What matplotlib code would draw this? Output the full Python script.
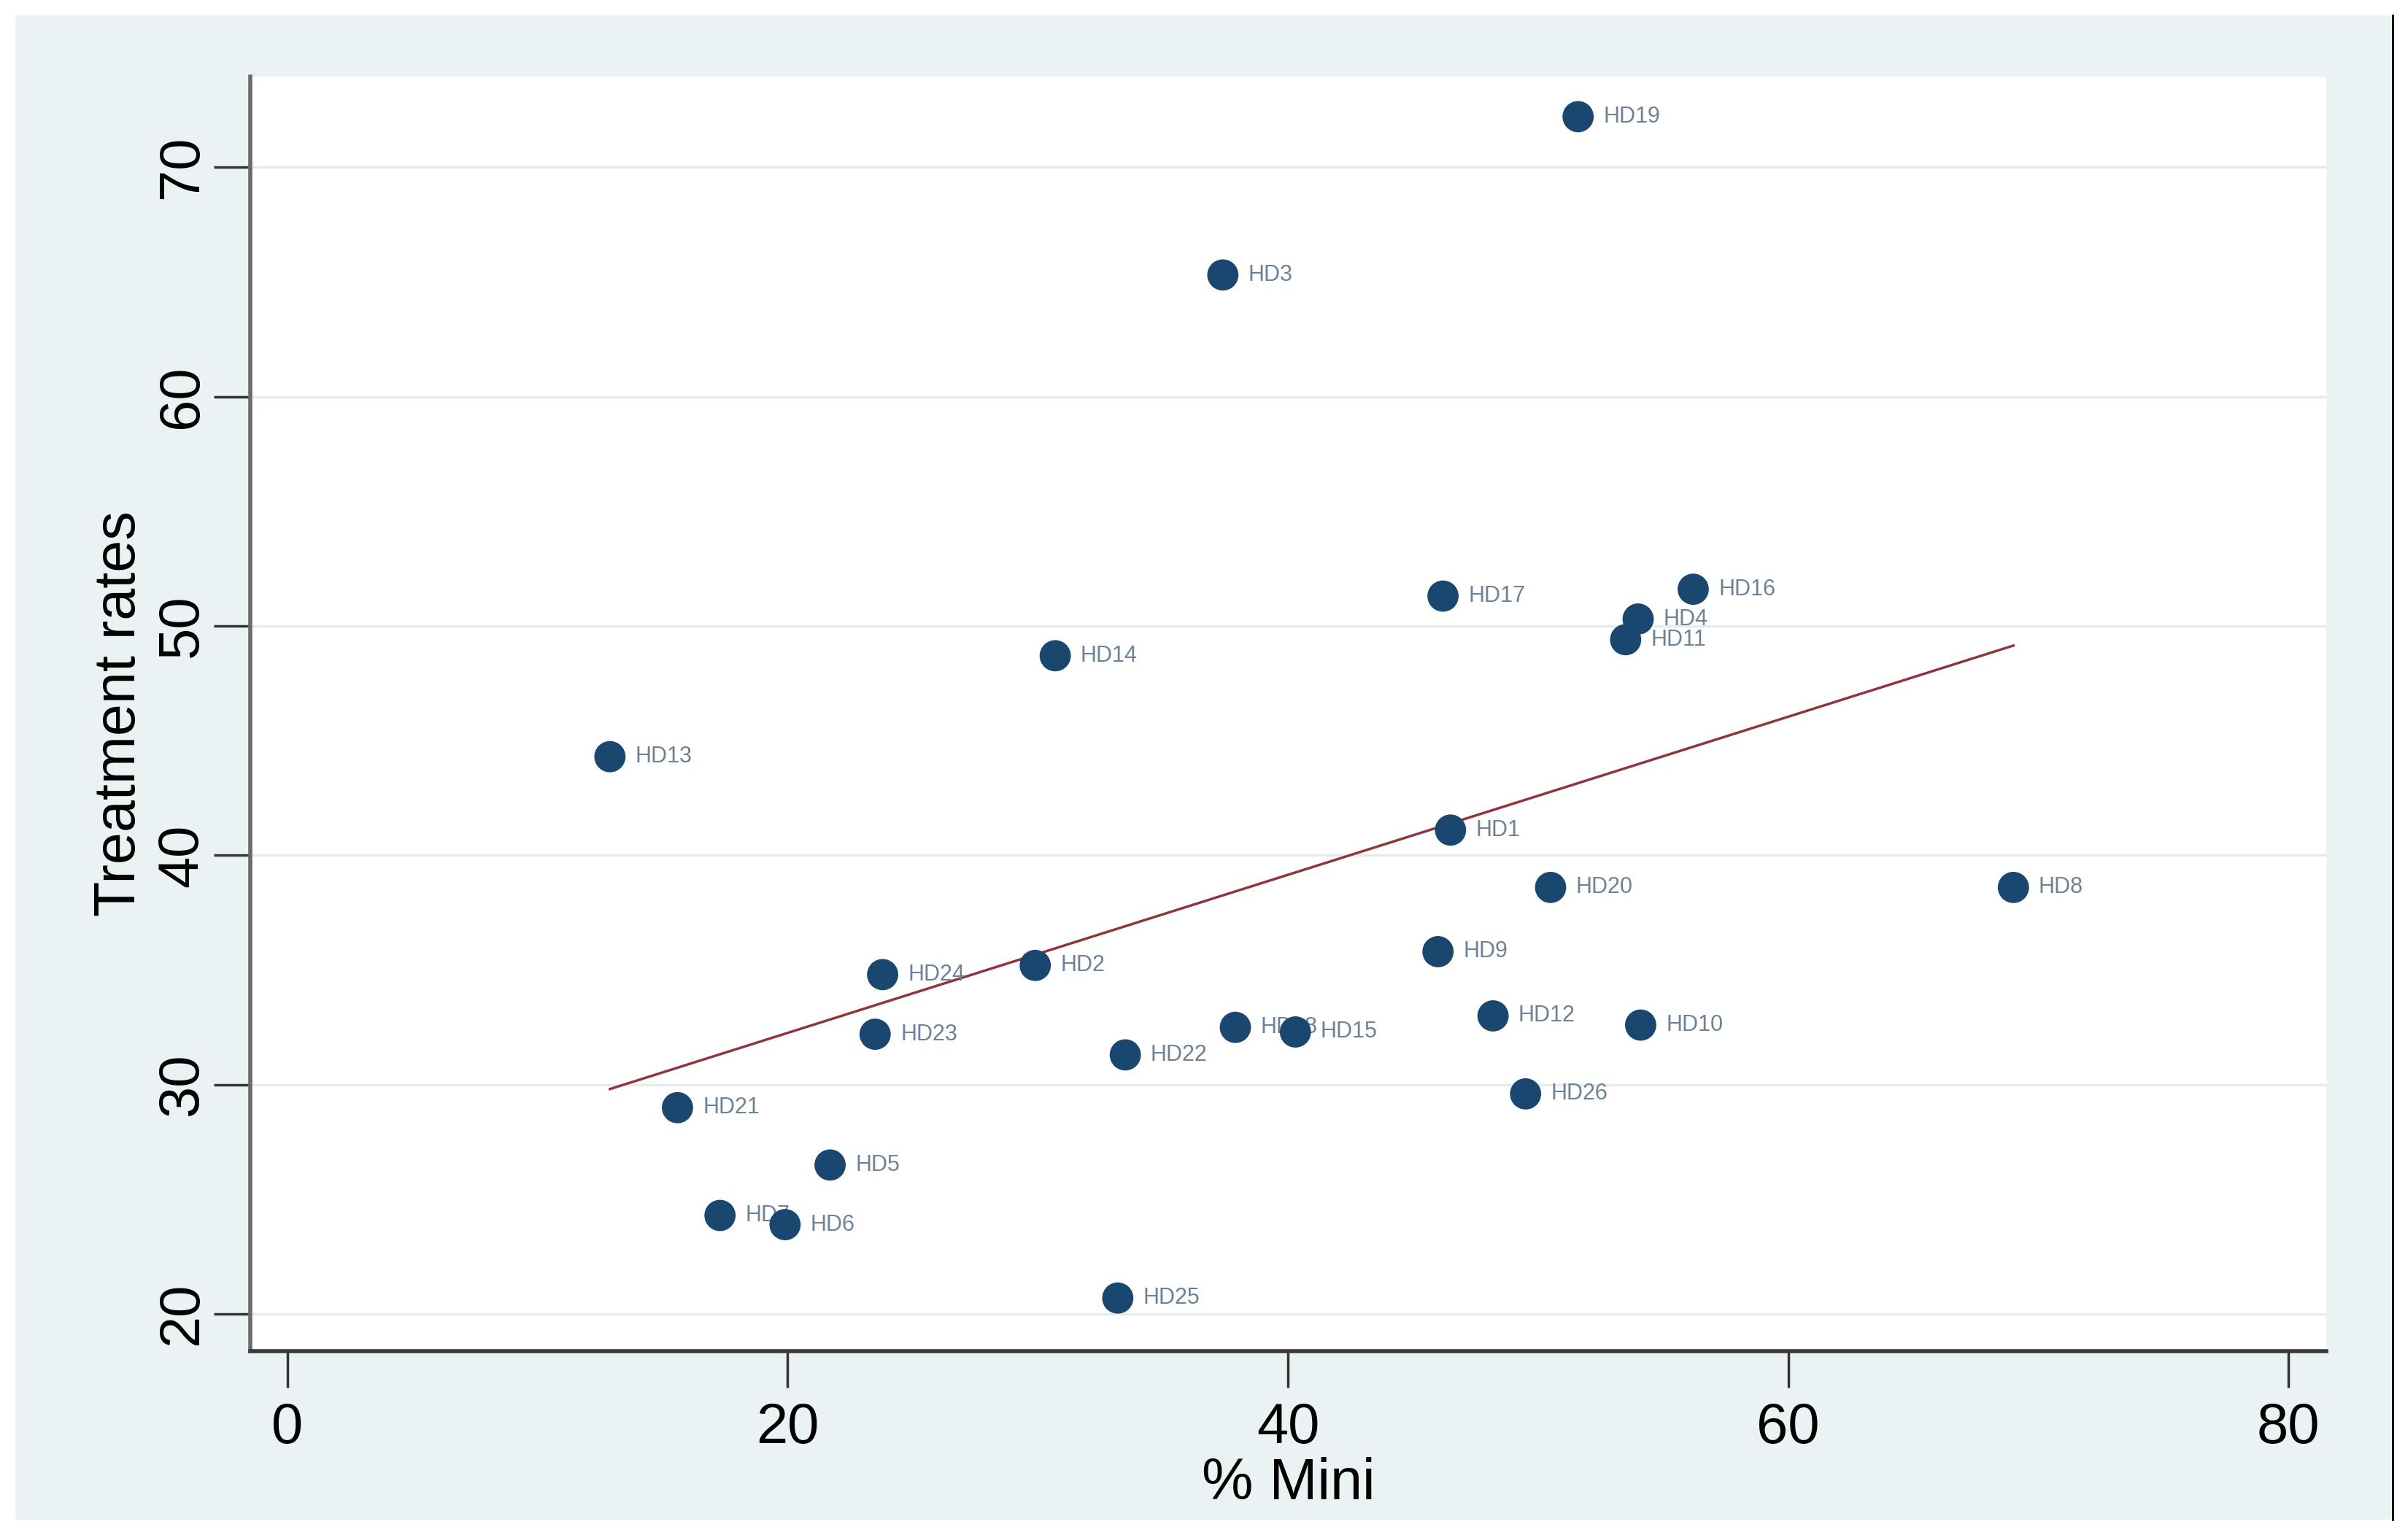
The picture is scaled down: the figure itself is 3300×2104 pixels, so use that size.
import numpy as np
import matplotlib
matplotlib.use('Agg')
import matplotlib.pyplot as plt
from matplotlib.patches import Rectangle
from matplotlib.lines import Line2D

plt.rcParams['font.family'] = ['Liberation Sans', 'DejaVu Sans']

# districts, % Mini, treatment rates
names = ['HD19', 'HD3', 'HD17', 'HD16', 'HD4', 'HD11', 'HD14', 'HD13', 'HD1',
         'HD20', 'HD8', 'HD9', 'HD24', 'HD2', 'HD12', 'HD10', 'HD18', 'HD15',
         'HD23', 'HD22', 'HD26', 'HD21', 'HD5', 'HD7', 'HD6', 'HD25']
mini = [51.6, 37.4, 46.2, 56.2, 54.0, 53.5, 30.7, 12.9, 46.5,
        50.5, 69.0, 46.0, 23.8, 29.9, 48.2, 54.1, 37.9, 40.3,
        23.5, 33.5, 49.5, 15.6, 21.7, 17.3, 19.9, 33.2]
rates = [72.2, 65.3, 51.3, 51.6, 50.3, 49.4, 48.7, 44.3, 41.1,
         38.6, 38.6, 35.8, 34.8, 35.2, 33.0, 32.6, 32.5, 32.3,
         32.2, 31.3, 29.6, 29.0, 26.5, 24.3, 23.9, 20.7]

xticks = [0, 20, 40, 60, 80]
yticks = [20, 30, 40, 50, 60, 70]

bg = '#EAF2F4'
navy = '#1A476F'
maroon = '#90353B'

fig = plt.figure(figsize=(33, 21.04), dpi=100)
fig.patch.set_facecolor('white')
fig.add_artist(Rectangle((0.0064, 0.0100), 0.987, 0.980, transform=fig.transFigure,
                         facecolor=bg, edgecolor='none', zorder=-5))
fig.add_artist(Line2D([0.9937, 0.9937], [0.0100, 0.990], transform=fig.transFigure,
                      color='black', lw=2, zorder=-4))

ax = fig.add_axes([0.104, 0.120, 0.862, 0.830])
ax.set_facecolor('white')

x = np.array(mini)
y = np.array(rates)

# linear fit
b, a = np.polyfit(x, y, 1)
xf = np.array([x.min(), x.max()])
ax.plot(xf, a + b * xf, color=maroon, lw=2.5, zorder=2)

ax.scatter(x, y, s=950, color=navy, edgecolors='none', zorder=3)
for nm, xi, yi in zip(names, mini, rates):
    ax.annotate(nm, (xi, yi), xytext=(25, 0), textcoords='offset points',
                ha='left', va='center', fontsize=22, color='#6d8296', zorder=2.5)

ax.set_xlim(-1.47, 81.5)
ax.set_ylim(18.4, 73.94)
ax.set_xticks(xticks)
ax.set_yticks(yticks)
ax.yaxis.grid(True, color='#e6ecee', lw=2.5)
ax.set_axisbelow(True)

for s in ['top', 'right']:
    ax.spines[s].set_visible(False)
ax.spines['left'].set_color('#6a6a6a')
ax.spines['left'].set_linewidth(4)
ax.spines['bottom'].set_color('#3a3a3a')
ax.spines['bottom'].set_linewidth(4)

ax.tick_params(axis='x', length=36, width=2.5, color='#333333', labelsize=56, pad=14)
ax.tick_params(axis='y', length=36, width=2.5, color='#333333', labelsize=56, pad=5)
for lab in ax.get_yticklabels():
    lab.set_rotation(90)
    lab.set_va('center')

ax.set_xlabel('% Mini', fontsize=57, labelpad=2)
ax.set_ylabel('Treatment rates', fontsize=57, labelpad=8)

fig.savefig('out.png', dpi=100, facecolor=fig.get_facecolor())
